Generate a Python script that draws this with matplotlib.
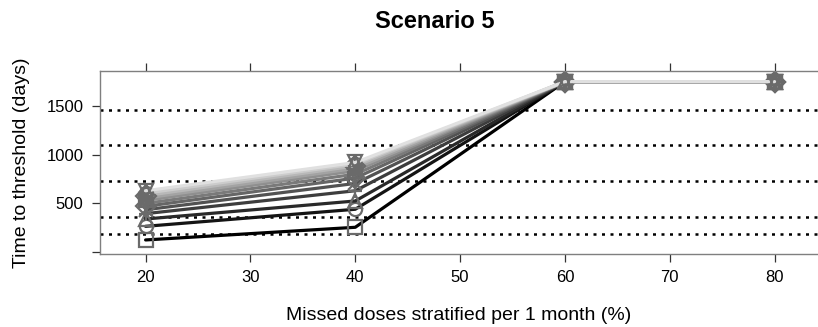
import numpy as np
import matplotlib
matplotlib.use("Agg")
import matplotlib.pyplot as plt

plt.rcParams['font.family'] = ['Liberation Sans', 'DejaVu Sans']

# Missed-dose levels (%) and time to threshold (days) for each profile
missed_pct = [20, 40, 60, 80]
time_at_20 = [125, 265, 340, 395, 435, 470, 500, 530, 555, 580, 605, 630]
time_at_40 = [255, 440, 525, 630, 705, 760, 800, 835, 860, 885, 905, 920]
time_at_60 = [1750] * 12
time_at_80 = [1750] * 12

# Reference thresholds: 6 months, 1, 2, 3 and 4 years in days
thresholds = [183, 365, 730, 1096, 1461]

x_ticks = [20, 30, 40, 50, 60, 70, 80]
y_ticks = [0, 500, 1000, 1500]
y_tick_labels = ['', '500', '1000', '1500']

# R-style plotting symbols (pch 0..11) built from matplotlib markers
symbols = [
    ['s'], ['o'], ['^'], ['+'], ['x'], ['D'], ['v'],
    ['s', 'x'], ['+', 'x'], ['D', '+'], ['o', '+'], ['^', 'v'],
]

series = np.array([time_at_20, time_at_40, time_at_60, time_at_80]).T
n = len(series)
grays = np.linspace(0.0, 0.88, n)
marker_color = '#6a6a6a'

fig = plt.figure(figsize=(8.18, 3.27), dpi=100)
ax = fig.add_axes([100 / 818, 1 - 253.5 / 327, 1 - 100 / 818 + 0.002, (253.5 - 71) / 327])

for t in thresholds:
    ax.axhline(t, color='black', lw=1.8, linestyle=(0, (1.2, 2.2)),
               dash_capstyle='butt', zorder=1)

for i, vals in enumerate(series):
    g = grays[i]
    ax.plot(missed_pct, vals, color=(g, g, g), lw=2.3, zorder=2 + i * 0.01,
            solid_capstyle='round')
    for m in symbols[i]:
        size = 9.5 if m in ('s', 'o', '+', 'x') else 10.5
        ax.plot(missed_pct, vals, linestyle='none', marker=m, markersize=size,
                markerfacecolor='none', markeredgecolor=marker_color,
                markeredgewidth=1.6, zorder=2 + i * 0.01 + 0.005)

ax.set_xlim(15.65, 84.3)
ax.set_ylim(-14, 1859)

ax.set_xticks(x_ticks)
ax.set_xticklabels([str(v) for v in x_ticks])
ax.set_yticks(y_ticks)
ax.set_yticklabels(y_tick_labels)

ax.tick_params(axis='both', direction='out', length=6, width=0.9,
               color='#333333', labelsize=12, pad=6)
ax.tick_params(axis='x', top=True, labeltop=False)
ax.tick_params(axis='y', right=False)

for side in ('left', 'bottom', 'top'):
    ax.spines[side].set_color('#7f7f7f')
    ax.spines[side].set_linewidth(1.0)
ax.spines['right'].set_visible(False)

fig.text(435 / 818, 1 - 22 / 327, 'Scenario 5', ha='center', va='center',
         fontsize=17, fontweight='bold')
fig.text(459 / 818, 1 - 320 / 327, 'Missed doses stratified per 1 month (%)',
         ha='center', va='baseline', fontsize=14)
fig.text(22 / 818, 1 - 162.5 / 327, 'Time to threshold (days)',
         ha='center', va='center', rotation=90, fontsize=14)

fig.savefig('out.png', dpi=100)
